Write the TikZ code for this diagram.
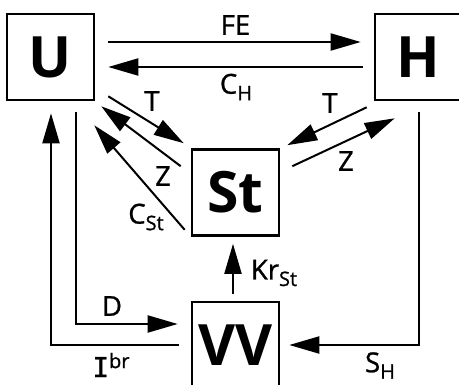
\documentclass[tikz,border=0pt]{standalone}
\usepackage{fontspec}
\setmainfont{Open Sans}
\newfontfamily\lblfont{Open Sans}[FakeBold=1]
\newfontfamily\monoI{DejaVu Sans Mono}[FakeBold=1]
\usetikzlibrary{arrows.meta,calc}
\newcommand\subx[1]{\raisebox{-6.5pt}{\fontsize{20}{20}\selectfont #1}}
\newcommand\supx[1]{\raisebox{9pt}{\fontsize{20}{20}\selectfont #1}}
\begin{document}
\begin{tikzpicture}[x=1pt,y=1pt,
  box/.style={draw,line width=2.6pt,minimum width=87pt,minimum height=86pt,inner sep=0pt,
    font=\fontsize{57}{60}\selectfont\bfseries},
  conn/.style={line width=2pt,-{Triangle[length=30pt,width=17pt]}},
  lbl/.style={font=\fontsize{27.5}{30}\lblfont,inner sep=0pt}]
\useasboundingbox (0,0) rectangle (459,384);
\clip (0,0) rectangle (459,384);
\fill[white] (0,0) rectangle (459,384);
\node[box] (U) at (50.5,327) {U};
\node[box] (H) at (418.5,327) {H};
\node[box] (St) at (235.5,191.5) {St};
\node[box] (VV) at (235.5,39) {VV};
% top pair
\draw[conn] ($(U.east)+(13,15)$) -- ($(H.west)+(-13,15)$);
\draw[conn] ($(H.west)+(-11,-10)$) -- ($(U.east)+(13,-10)$);
% U <-> St
\draw[conn] ($(U.south east)+(13,5)$) -- ($(St.north west)+(-7,5)$);
\draw[conn] ($(St.north west)+(-10,-18)$) -- ($(U.south east)+(6,-5)$);
\draw[conn] ($(St.south west)+(-6,7)$) -- ($(U.south east)+(-1,-24)$);
% H <-> St
\draw[conn] ($(H.south west)+(-7,-6)$) -- ($(St.north east)+(7,3)$);
\draw[conn] ($(St.north east)+(12,-18)$) -- ($(H.south west)+(21,-17)$);
% VV -> St
\draw[conn] ($(VV.north)+(-2.5,7)$) -- ($(St.south)+(-2.5,-7)$);
% elbows
\draw[conn] ($(U.south)+(25.5,-11)$) |- ($(VV.west)+(-13,21)$);
\draw[conn] ($(VV.west)+(-12,0)$) -| ($(U.south)+(0.5,-12)$);
\draw[conn] ($(H.south)+(0.5,-11)$) |- ($(VV.east)+(9,0)$);
% labels
\node[lbl] (lFE) at (235.5,359) {FE};
\node[lbl] (lCH) at (236,297) {C\subx{H}};
\node[lbl] (lT1) at (152,283) {T};
\node[lbl] (lZ1) at (163,208) {Z};
\node[lbl] (lCSt) at (146,167) {C\subx{St}};
\node[lbl] (lT2) at (330,281) {T};
\node[lbl] (lZ2) at (346,223) {Z};
\node[lbl] (lKr) at (274,111) {Kr\subx{St}};
\node[lbl] (lD) at (112,78) {D};
\node[lbl] (lI) at (111,19) {{\monoI I}\supx{br}};
\node[lbl] (lSH) at (380,18.5) {S\subx{H}};
\end{tikzpicture}
\end{document}
